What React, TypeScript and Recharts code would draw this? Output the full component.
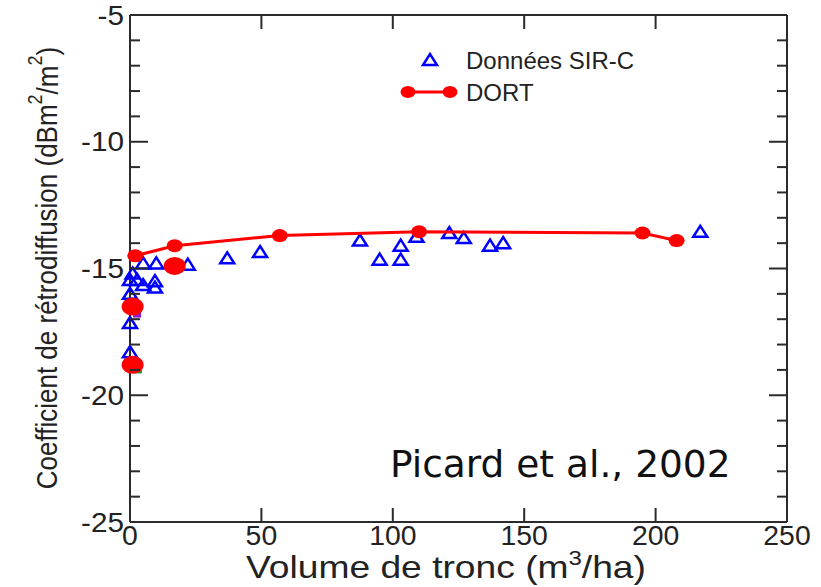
import { ScatterChart, Scatter, XAxis, YAxis, Label } from 'recharts'

// axis ticks
const xTicks = [0, 50, 100, 150, 200, 250]
const yMajor = [-25, -20, -15, -10, -5]
const yMinor = [-25, -24, -23, -22, -21, -20, -19, -18, -17, -16, -15, -14, -13, -12, -11, -10, -9, -8, -7, -6, -5]

// DORT model (connected)
const dort = [
  { x: 2, y: -14.5 },
  { x: 17, y: -14.1 },
  { x: 57, y: -13.7 },
  { x: 110, y: -13.55 },
  { x: 195, y: -13.6 },
  { x: 208, y: -13.9 },
]

// DORT points not on the curve
const dortExtra = [
  { x: 1, y: -16.5 },
  { x: 1, y: -18.8 },
  { x: 17, y: -14.9 },
]

// small leftover markers hidden under the red dots
const purpleMarks = [{ x: 2.7, y: -16.8 }]
const greenMarks = [{ x: 3, y: -19.0 }]

// SIR-C measurements
const sirc = [
  { x: 5, y: -14.8 },
  { x: 10, y: -14.8 },
  { x: 22, y: -14.85 },
  { x: 1, y: -15.2 },
  { x: 0, y: -15.45 },
  { x: 2.7, y: -15.45 },
  { x: 5, y: -15.65 },
  { x: 9.5, y: -15.5 },
  { x: 9.5, y: -15.75 },
  { x: 0, y: -16.0 },
  { x: 0, y: -17.15 },
  { x: 0, y: -18.3 },
  { x: 37, y: -14.6 },
  { x: 49.5, y: -14.35 },
  { x: 87.5, y: -13.9 },
  { x: 95, y: -14.65 },
  { x: 103, y: -14.1 },
  { x: 103, y: -14.65 },
  { x: 109, y: -13.75 },
  { x: 121.5, y: -13.6 },
  { x: 127, y: -13.8 },
  { x: 137, y: -14.1 },
  { x: 142, y: -14.0 },
  { x: 217, y: -13.55 },
]

const AXIS = '#2b2b2b'
const FONT = '"Liberation Sans", Arial, sans-serif'

function Triangle({ cx, cy }: any) {
  if (cx == null || cy == null) return <g />
  return (
    <path
      d={`M${cx - 7},${cy + 5} L${cx + 7},${cy + 5} L${cx},${cy - 6} Z`}
      fill="none"
      stroke="#0000ff"
      strokeWidth={2.5}
    />
  )
}

function SmallDot({ cx, cy }: any) {
  if (cx == null || cy == null) return <g />
  return <ellipse cx={cx} cy={cy} rx={8} ry={6.5} fill="#ff0000" />
}

function BigDot({ cx, cy }: any) {
  if (cx == null || cy == null) return <g />
  return <ellipse cx={cx} cy={cy} rx={11} ry={9} fill="#ff0000" />
}

function Square({ cx, cy, fill }: any) {
  if (cx == null || cy == null) return <g />
  return <rect x={cx - 4} y={cy - 3.5} width={8} height={7} fill={fill} />
}

function Nothing() {
  return <g />
}

function LeftTick({ x, y, payload }: any) {
  const major = yMajor.includes(payload.value)
  return (
    <g>
      <line x1={x} x2={x + (major ? 18 : 10)} y1={y} y2={y} stroke={AXIS} strokeWidth={2} />
      {major && (
        <text
          x={x - 6}
          y={y}
          textAnchor="end"
          dominantBaseline="central"
          fontSize={27}
          fill="#222"
          fontFamily={FONT}
          transform={`translate(${x - 6},0) scale(1.1,1) translate(${-(x - 6)},0)`}
        >
          {payload.value}
        </text>
      )}
    </g>
  )
}

function RightTick({ x, y, payload }: any) {
  const major = yMajor.includes(payload.value)
  return <line x1={x} x2={x - (major ? 18 : 10)} y1={y} y2={y} stroke={AXIS} strokeWidth={2} />
}

function BottomTick({ x, y, payload }: any) {
  return (
    <g>
      <line x1={x} x2={x} y1={y} y2={y - 14} stroke={AXIS} strokeWidth={2} />
      <text
        x={x}
        y={y + 4}
        textAnchor="middle"
        dominantBaseline="hanging"
        fontSize={27}
        fill="#222"
        fontFamily={FONT}
        transform={`translate(${x},0) scale(1.05,1) translate(${-x},0)`}
      >
        {payload.value}
      </text>
    </g>
  )
}

function TopTick({ x, y }: any) {
  return <line x1={x} x2={x} y1={y} y2={y + 14} stroke={AXIS} strokeWidth={2} />
}

function YTitle() {
  return (
    <text
      transform="translate(47,268) rotate(-90) scale(1,1.12)"
      textAnchor="middle"
      dominantBaseline="central"
      fontSize={26}
      fill="#222"
      fontFamily={FONT}
    >
      Coefficient de rétrodiffusion (dBm
      <tspan dy={-11} fontSize={18}>2</tspan>
      <tspan dy={11}>/m</tspan>
      <tspan dy={-11} fontSize={18}>2</tspan>
      <tspan dy={11}>)</tspan>
    </text>
  )
}

function XTitle() {
  return (
    <text
      transform="translate(446,578) scale(1.2,1)"
      textAnchor="middle"
      fontSize={31}
      fill="#222"
      fontFamily={FONT}
    >
      Volume de tronc (m
      <tspan dy={-13} fontSize={20}>3</tspan>
      <tspan dy={13}>/ha)</tspan>
    </text>
  )
}

export default function App() {
  return (
    <div style={{ position: 'absolute', left: 0, top: 0, width: 821, height: 587, background: '#fff' }}>
      <ScatterChart width={821} height={587} margin={{ top: 10, right: 24, bottom: 35, left: 70 }}>
        <XAxis
          type="number"
          dataKey="x"
          domain={[0, 250]}
          ticks={xTicks}
          interval={0}
          height={30}
          tickSize={0}
          tickMargin={0}
          tick={<BottomTick />}
          axisLine={{ stroke: AXIS, strokeWidth: 2 }}
        >
          <Label content={<XTitle />} />
        </XAxis>
        <XAxis
          xAxisId="top"
          orientation="top"
          type="number"
          dataKey="x"
          domain={[0, 250]}
          ticks={xTicks}
          interval={0}
          height={5}
          tickSize={0}
          tickMargin={0}
          tick={<TopTick />}
          axisLine={{ stroke: AXIS, strokeWidth: 2 }}
        />
        <YAxis
          type="number"
          dataKey="y"
          domain={[-25, -5]}
          ticks={yMinor}
          interval={0}
          width={60}
          tickSize={0}
          tickMargin={0}
          tick={<LeftTick />}
          axisLine={{ stroke: AXIS, strokeWidth: 2 }}
        >
          <Label content={<YTitle />} />
        </YAxis>
        <YAxis
          yAxisId="right"
          orientation="right"
          type="number"
          dataKey="y"
          domain={[-25, -5]}
          ticks={yMinor}
          interval={0}
          width={10}
          tickSize={0}
          tickMargin={0}
          tick={<RightTick />}
          axisLine={{ stroke: AXIS, strokeWidth: 2 }}
        />
        <Scatter data={sirc} xAxisId="top" yAxisId="right" shape={<Nothing />} isAnimationActive={false} />
        <Scatter data={purpleMarks} shape={<Square fill="#8a1fd0" />} isAnimationActive={false} />
        <Scatter data={greenMarks} shape={<Square fill="#1a9a2a" />} isAnimationActive={false} />
        <Scatter name="Données SIR-C" data={sirc} shape={<Triangle />} isAnimationActive={false} />
        <Scatter
          name="DORT"
          data={dort}
          shape={<SmallDot />}
          line={{ stroke: '#ff0000', strokeWidth: 3 }}
          lineType="joint"
          isAnimationActive={false}
        />
        <Scatter data={dortExtra} shape={<BigDot />} isAnimationActive={false} />
      </ScatterChart>
      <svg width={821} height={587} style={{ position: 'absolute', left: 0, top: 0, pointerEvents: 'none' }}>
        <path d="M423,65 L437,65 L430,54 Z" fill="none" stroke="#0000ff" strokeWidth={2.5} />
        <text x={466} y={60} dominantBaseline="central" fontSize={24} fill="#222" fontFamily={FONT}>
          Données SIR-C
        </text>
        <line x1={408} x2={450} y1={92} y2={92} stroke="#ff0000" strokeWidth={3} />
        <ellipse cx={408} cy={92} rx={7.5} ry={6} fill="#ff0000" />
        <ellipse cx={450} cy={92} rx={7.5} ry={6} fill="#ff0000" />
        <text x={466} y={92} dominantBaseline="central" fontSize={24} fill="#222" fontFamily={FONT}>
          DORT
        </text>
        <text x={390} y={477} fontSize={37.5} fill="#111" fontFamily='"DejaVu Sans", Verdana, sans-serif'>
          Picard et al., 2002
        </text>
      </svg>
    </div>
  )
}
